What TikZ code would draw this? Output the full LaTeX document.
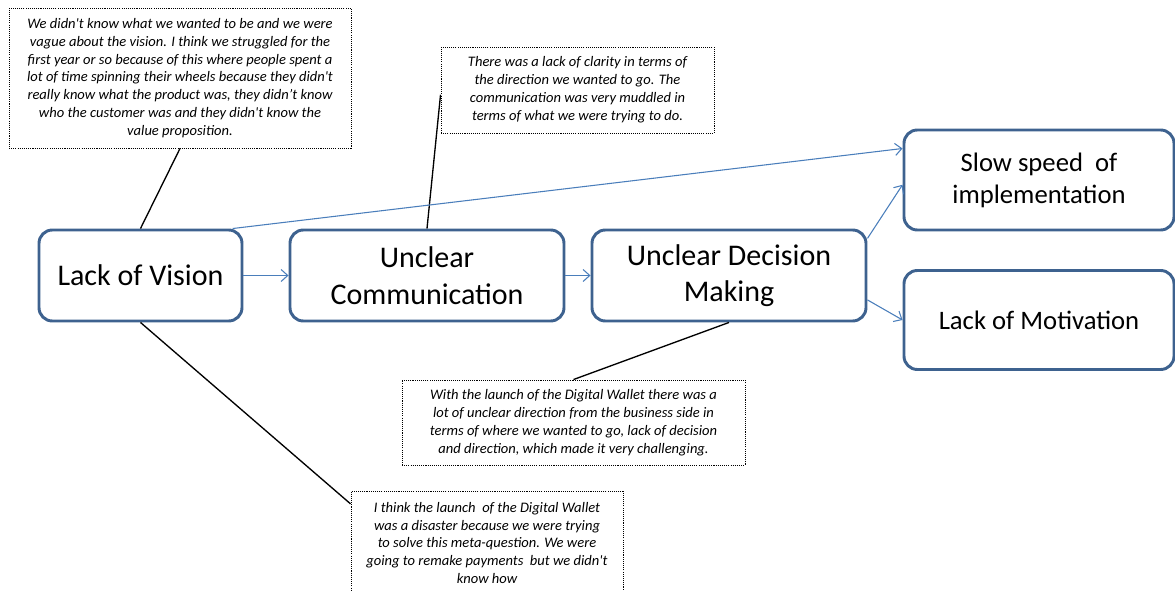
\documentclass[tikz,border=0pt]{standalone}
\usepackage{fontspec}
\setmainfont{Carlito}
\usepackage{tikz}
\usetikzlibrary{arrows.meta}

\definecolor{boxblue}{RGB}{62,98,143}
\definecolor{arrowblue}{RGB}{74,126,187}

\newcommand{\sq}{\textquotesingle}
\newcommand{\causefont}{\fontsize{22.5}{27.5}\selectfont}
\newcommand{\effectfont}{\fontsize{20}{24}\selectfont}
\newcommand{\quotefont}{\fontsize{10.9}{13.4}\selectfont\itshape}

\begin{document}
\begin{tikzpicture}[x=0.75pt,y=-0.75pt]

			\tikzstyle{causebox} = [draw=boxblue,line width=2.2pt,fill=white,rounded corners=10pt,align=center,font=\causefont,minimum height=68.25pt]
			\tikzstyle{effectbox} = [causebox,font=\effectfont,minimum width=202.5pt]
			\tikzstyle{quotebox} = [draw,line width=0.7pt,dash pattern=on 0.8pt off 0.8pt,fill=white,align=center,font=\quotefont]
			\tikzstyle{flow} = [arrowblue,line width=0.8pt,-{Straight Barb[length=5pt,width=9pt]}]
			\tikzstyle{link} = [black,line width=1pt]

			\useasboundingbox (0,0) rectangle (1175,591);
			\clip (0,0) rectangle (1175,591);

			% causes along the middle
			\node[causebox,minimum width=152.25pt] (vision) at (140.5,275.5) {Lack of Vision};
			\node[causebox,minimum width=205.5pt] (comm) at (427,275.5) {Unclear\\Communication};
			\node[causebox,minimum width=205.5pt] (decision) at (729,275.5) {Unclear Decision\\Making};

			% effects on the right
			\node[effectbox,minimum height=75pt] (slow) at (1039,180) {Slow speed ~of\\implementation};
			\node[effectbox,minimum height=74.25pt] (motivation) at (1039,320) {Lack of Motivation};

			% quotes
			\node[quotebox,minimum width=256.5pt,minimum height=105pt] (q1) at (180,78) {We didn\sq t know what we wanted to be and we were\\vague about the vision. I think we struggled for the\\first year or so because of this where people spent a\\lot of time spinning their wheels because they didn\sq t\\really know what the product was, they didn’t know\\who the customer was and they didn\sq t know the\\value proposition.};
			\node[quotebox,minimum width=204.75pt,minimum height=64.5pt] (q2) at (577.5,90) {There was a lack of clarity in terms of\\the direction we wanted to go. The\\communication was very muddled in\\terms of what we were trying to do.};
			\node[quotebox,minimum width=257.25pt,minimum height=63.75pt] (q3) at (573.5,422.5) {With the launch of the Digital Wallet there was a\\lot of unclear direction from the business side in\\terms of where we wanted to go, lack of decision\\and direction, which made it very challenging.};
			\node[quotebox,minimum width=204pt,minimum height=78pt] (q4) at (487,543) {I think the launch ~of the Digital Wallet\\was a disaster because we were trying\\to solve this meta-question. We were\\going to remake payments ~but we didn\sq t\\know how};

			% quotes tied to their boxes
			\draw[link] (q1.south) -- (vision.north);
			\draw[link] (q2.182) -- (comm.north);
			\draw[link] (q3.north) -- (decision.south);
			\draw[link] (vision.south) -- ([yshift=-10pt]q4.north west);

			% arrows
			\draw[flow] (vision.east) -- (comm.west);
			\draw[flow] (comm.east) -- (decision.west);
			\draw[flow] (vision.27) -- (slow.167.5);
			\draw[flow] (decision.15.6) -- (slow.182);
			\draw[flow] (decision.-10.5) -- (motivation.west);

		\end{tikzpicture}
\end{document}
